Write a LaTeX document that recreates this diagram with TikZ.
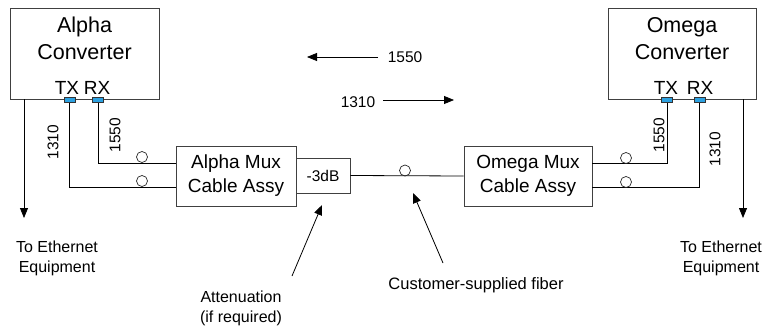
\documentclass[tikz,border=0pt]{standalone}
\usepackage{fontspec}
\setmainfont{Liberation Sans}
\usetikzlibrary{arrows.meta,calc}
\begin{document}
\begin{tikzpicture}[x=1pt,y=-1pt,
  box/.style={draw=black!75,line width=0.9pt,inner sep=0pt},
  port/.style={draw=black!80,fill=cyan!80!blue!85,line width=0.6pt,minimum width=11pt,minimum height=5pt,inner sep=0pt},
  wire/.style={line width=0.8pt,black},
  arr/.style={line width=0.8pt,-{Triangle[length=10pt,width=8pt]}},
  ring/.style={circle,draw=black!85,line width=0.7pt,minimum size=11pt,inner sep=0pt},
  conv/.style={font=\fontsize{21.5}{27}\selectfont,align=center},
  lbl/.style={font=\fontsize{19}{20}\selectfont,inner sep=0pt},
  wl/.style={font=\fontsize{15.5}{18}\selectfont,inner sep=0pt},
  note/.style={font=\fontsize{16}{20}\selectfont,align=center,inner sep=0pt}]
\useasboundingbox (0,0) rectangle (771,329);
% converters
\node[box,minimum width=149pt,minimum height=91pt] (ac) at (84.5,53.5) {};
\node[conv] (act) at (84.5,38.5) {Alpha\\Converter};
\node[box,minimum width=148pt,minimum height=91pt] (oc) at (682,53.5) {};
\node[conv] (oct) at (682,38.5) {Omega\\Converter};
% TX RX labels
\node[lbl] (atxl) at (67,88) {TX};
\node[lbl] (arxl) at (97,88) {RX};
\node[lbl] (otxl) at (666,88) {TX};
\node[lbl] (orxl) at (700,88) {RX};
% ports
\node[port] (atx) at (69.5,100) {};
\node[port] (arx) at (98,100) {};
\node[port] (otx) at (667,100) {};
\node[port] (orx) at (699.5,100) {};
% mux boxes
\node[box,minimum width=120pt,minimum height=60pt,font=\fontsize{19}{24}\selectfont,align=center] (am) at (236,176) {Alpha Mux\\Cable Assy};
\node[box,minimum width=54pt,minimum height=35pt,font=\fontsize{15.5}{18}\selectfont] (att) at (323,175.5) {-3dB};
\node[box,minimum width=128pt,minimum height=60pt,font=\fontsize{19}{24}\selectfont,align=center] (om) at (528,176) {Omega Mux\\Cable Assy};
% wires alpha side
\coordinate (amhi) at ($(am.west)+(0,-13)$);
\coordinate (amlo) at ($(am.west)+(0,11)$);
\draw[wire] (atx.south) |- (amlo);
\draw[wire] (arx.south) |- (amhi);
% wires omega side
\coordinate (omhi) at ($(om.east)+(0,-13)$);
\coordinate (omlo) at ($(om.east)+(0,11)$);
\draw[wire] (otx.south) |- (omhi);
\draw[wire] (orx.south) |- (omlo);
% fiber
\draw[wire] (att.east) -- (om.west);
% rings
\node[ring] (r1) at (142,157) {};
\node[ring] (r2) at (142,181) {};
\node[ring] (r3) at (405,170.5) {};
\node[ring] (r4) at (626,158) {};
\node[ring] (r5) at (626,182) {};
% wavelength labels on wires
\node[wl,rotate=90] (w1) at (53,142) {1310};
\node[wl,rotate=90] (w2) at (115,135) {1550};
\node[wl,rotate=90] (w3) at (659,135) {1550};
\node[wl,rotate=90] (w4) at (715,149) {1310};
% ethernet arrows
\coordinate (ae) at (24,218);
\coordinate (oe) at (743,218);
\draw[arr] (ac.south -| ae) -- (ae);
\draw[arr] (oc.south -| oe) -- (oe);
\node[note] (ate) at (57,258) {To Ethernet\\Equipment};
\node[note] (ote) at (721,258) {To Ethernet\\Equipment};
% direction arrows
\node[wl] (d1) at (405,57) {1550};
\node[wl] (d2) at (358,102.5) {1310};
\coordinate (d1t) at (307,57);
\coordinate (d2t) at (454,100);
\draw[arr] (378,57) -- (d1t);
\draw[arr] (383,100) -- (d2t);
% notes
\node[note] (atn) at (241,308.5) {Attenuation\\(if required)};
\node[note,font=\fontsize{16.5}{20}\selectfont] (csf) at (476,285) {Customer-supplied fiber};
\coordinate (atnt) at (292,276);
\coordinate (csft) at (443,263);
\draw[arr] (atnt) -- (322,205);
\draw[arr] (csft) -- (413,193);
\end{tikzpicture}
\end{document}
